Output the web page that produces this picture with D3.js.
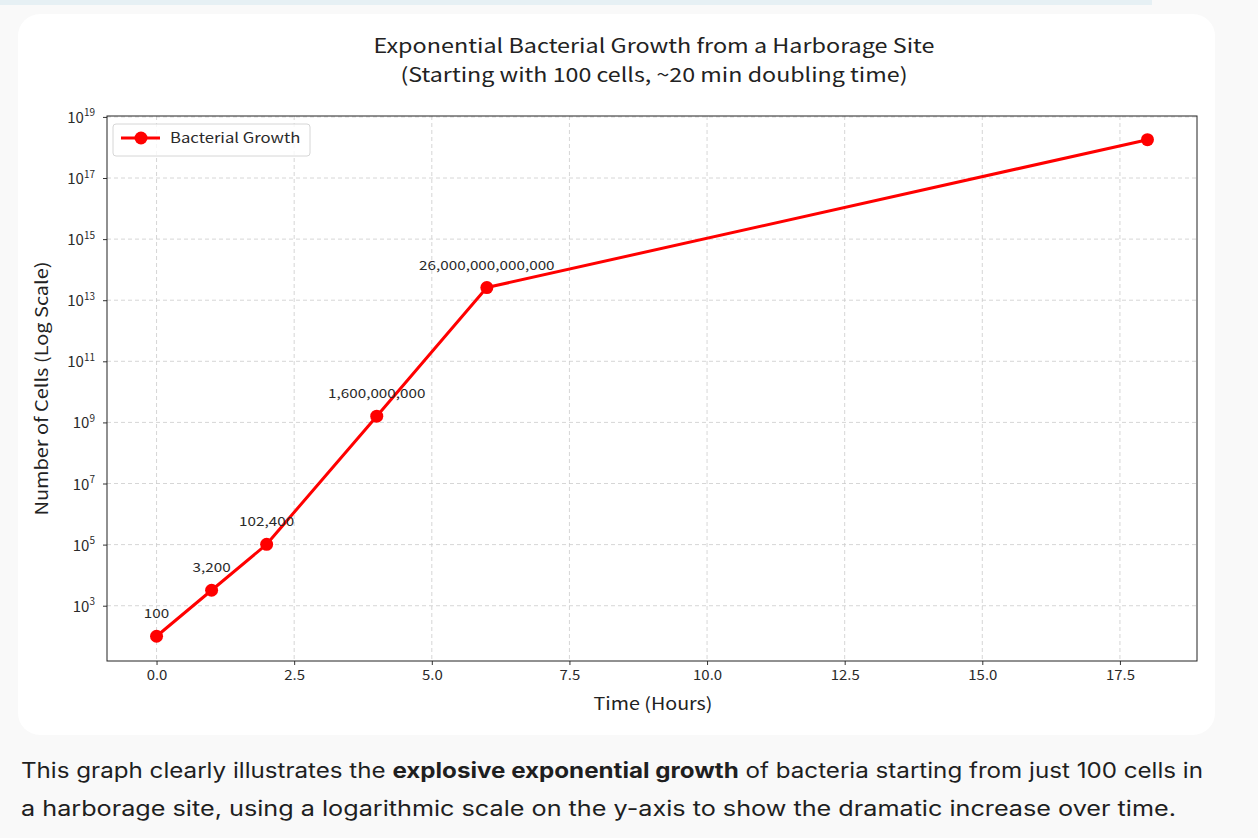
<!DOCTYPE html>
<html>
<head>
<meta charset="utf-8">
<script src="https://cdn.jsdelivr.net/npm/d3@7"></script>
<style>
  html, body { margin: 0; padding: 0; background: #f9f9f9; }
  svg { display: block; }
</style>
</head>
<body>
<script>
// data
const hours = [0, 1, 2, 4, 6, 18];
const cells = [100, 3200, 102400, 1.6e9, 2.6e13, 1.8e18];
const labelled = [true, true, true, true, true, false];
const xTicks = [0, 2.5, 5, 7.5, 10, 12.5, 15, 17.5];
const yExps = [3, 5, 7, 9, 11, 13, 15, 17, 19];
const titleLines = ["Exponential Bacterial Growth from a Harborage Site",
                    "(Starting with 100 cells, ~20 min doubling time)"];

// the chart picture is a bit wider than its fonts
const stretchK = 1.22;
function stretch(sel, k) {
  sel.each(function() {
    const w = this.getComputedTextLength();
    d3.select(this).attr("textLength", w * k).attr("lengthAdjust", "spacingAndGlyphs");
  });
}

function main() {
  const width = 1258, height = 838;
  const chartFont = "'Noto Sans CJK JP', 'Noto Sans', sans-serif";

  const svg = d3.select("body").append("svg")
    .attr("width", width)
    .attr("height", height);

  // top strip + card
  svg.append("rect").attr("x", 0).attr("y", 0).attr("width", 1152).attr("height", 5)
    .attr("fill", "#e6f0f4");
  svg.append("rect").attr("x", 18).attr("y", 14).attr("width", 1197).attr("height", 721)
    .attr("rx", 22).attr("fill", "#fff");

  const plot = {left: 107, right: 1197, top: 116, bottom: 661};

  const x = d3.scaleLinear().domain([-0.9, 18.9]).range([plot.left, plot.right]);
  const y = d3.scaleLog().domain([Math.pow(10, 1.19), Math.pow(10, 19.03)]).range([plot.bottom, plot.top]);

  const g = svg.append("g").attr("font-family", chartFont);

  // grid
  g.append("g").selectAll("line").data(xTicks).join("line")
    .attr("x1", d => x(d)).attr("x2", d => x(d))
    .attr("y1", plot.top).attr("y2", plot.bottom)
    .attr("stroke", "#cccccc").attr("stroke-width", 0.8).attr("stroke-dasharray", "4,3");
  g.append("g").selectAll("line").data(yExps).join("line")
    .attr("x1", plot.left).attr("x2", plot.right)
    .attr("y1", d => y(Math.pow(10, d))).attr("y2", d => y(Math.pow(10, d)))
    .attr("stroke", "#cccccc").attr("stroke-width", 0.8).attr("stroke-dasharray", "4,3");

  // axes
  const xAxis = g.append("g")
    .attr("transform", `translate(0,${plot.bottom})`)
    .call(d3.axisBottom(x).tickValues(xTicks).tickFormat(d3.format(".1f")).tickSize(4).tickPadding(6));
  xAxis.select(".domain").remove();
  xAxis.selectAll("text").attr("font-size", 13).attr("font-family", chartFont).attr("fill", "#2a2a2a")
    .call(stretch, 1.15);
  xAxis.selectAll("line").attr("stroke", "#333");

  const yAxis = g.append("g")
    .attr("transform", `translate(${plot.left},0)`)
    .call(d3.axisLeft(y).tickValues(yExps.map(e => Math.pow(10, e))).tickFormat("").tickSize(4));
  yAxis.select(".domain").remove();
  yAxis.selectAll("line").attr("stroke", "#333");

  const yl = g.append("g").selectAll("text").data(yExps).join("text")
    .attr("x", plot.left - 12)
    .attr("y", d => y(Math.pow(10, d)) + 6)
    .attr("text-anchor", "end")
    .attr("font-size", 15).attr("fill", "#2a2a2a");
  yl.append("tspan").text("10");
  yl.append("tspan").attr("dy", -6.5).attr("font-size", 10).text(d => d);

  // frame
  g.append("rect")
    .attr("x", plot.left).attr("y", plot.top)
    .attr("width", plot.right - plot.left).attr("height", plot.bottom - plot.top)
    .attr("fill", "none").attr("stroke", "#222").attr("stroke-width", 1);

  // series
  const pts = hours.map((h, i) => ({h, c: cells[i], lab: labelled[i]}));
  g.append("path").datum(pts)
    .attr("d", d3.line().x(d => x(d.h)).y(d => y(d.c)))
    .attr("fill", "none").attr("stroke", "#ff0000").attr("stroke-width", 3)
    .attr("stroke-linejoin", "round");
  g.append("g").selectAll("circle").data(pts).join("circle")
    .attr("cx", d => x(d.h)).attr("cy", d => y(d.c)).attr("r", 6.5)
    .attr("fill", "#ff0000");

  g.append("g").selectAll("text").data(pts.filter(d => d.lab)).join("text")
    .attr("x", d => x(d.h)).attr("y", d => y(d.c) - 18)
    .attr("text-anchor", "middle").attr("font-size", 12.5).attr("fill", "#2a2a2a")
    .text(d => d3.format(",.0f")(d.c))
    .call(stretch, stretchK);

  // legend
  const lg = g.append("g");
  lg.append("rect").attr("x", 113).attr("y", 124).attr("width", 197).attr("height", 32)
    .attr("rx", 3).attr("fill", "#fff").attr("fill-opacity", 0.8)
    .attr("stroke", "#d6d6d6");
  lg.append("line").attr("x1", 121).attr("x2", 160).attr("y1", 138).attr("y2", 138)
    .attr("stroke", "#ff0000").attr("stroke-width", 3);
  lg.append("circle").attr("cx", 141).attr("cy", 138).attr("r", 6.5).attr("fill", "#ff0000");
  lg.append("text").attr("x", 170).attr("y", 143).attr("font-size", 14).attr("fill", "#2a2a2a")
    .text("Bacterial Growth")
    .call(stretch, 1.19);

  // titles
  const titleW = [561, 507];
  g.append("g").selectAll("text").data(titleLines).join("text")
    .attr("x", 654).attr("y", (d, i) => 53 + i * 29)
    .attr("text-anchor", "middle").attr("font-size", 19.5).attr("fill", "#222")
    .attr("textLength", (d, i) => titleW[i]).attr("lengthAdjust", "spacingAndGlyphs")
    .text(d => d);

  g.append("text").attr("x", 653).attr("y", 710)
    .attr("text-anchor", "middle").attr("font-size", 17).attr("fill", "#222")
    .attr("textLength", 119).attr("lengthAdjust", "spacingAndGlyphs")
    .text("Time (Hours)");
  g.append("text")
    .attr("transform", `translate(48,${(plot.top + plot.bottom) / 2}) rotate(-90)`)
    .attr("text-anchor", "middle").attr("font-size", 17).attr("fill", "#222")
    .attr("textLength", 254).attr("lengthAdjust", "spacingAndGlyphs")
    .text("Number of Cells (Log Scale)");

  // caption under the card
  const cap = svg.append("g").attr("font-family", "Inter, 'Noto Sans', sans-serif")
    .attr("font-size", 21).attr("fill", "#1f1f1f");
  const l1 = cap.append("text").attr("x", 21).attr("y", 778)
    .attr("textLength", 1182).attr("lengthAdjust", "spacingAndGlyphs");
  l1.append("tspan").text("This graph clearly illustrates the ");
  l1.append("tspan").attr("font-weight", 700).text("explosive exponential growth");
  l1.append("tspan").text(" of bacteria starting from just 100 cells in");
  cap.append("text").attr("x", 21).attr("y", 816)
    .attr("textLength", 1155).attr("lengthAdjust", "spacingAndGlyphs")
    .text("a harborage site, using a logarithmic scale on the y-axis to show the dramatic increase over time.");
}

window.addEventListener("load", main);
</script>
</body>
</html>
